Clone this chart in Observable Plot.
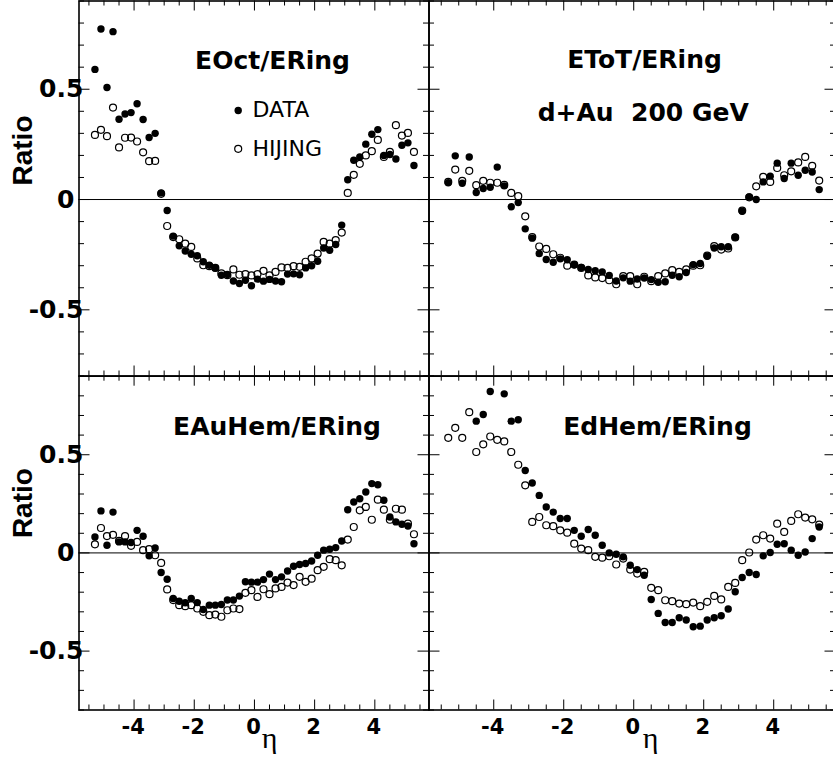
<!DOCTYPE html>
<html><head><meta charset="utf-8">
<script src="https://cdn.jsdelivr.net/npm/d3@7"></script>
<script src="https://cdn.jsdelivr.net/npm/@observablehq/plot@0.6"></script>
<style>
html,body{margin:0;padding:0;background:#fff;overflow:hidden}
#c{position:relative;width:833px;height:759px;overflow:hidden;background:#fff}
</style></head><body><div id="c"></div>
<script>
// ---- data ----
const eta = [-5.3,-5.1,-4.9,-4.7,-4.5,-4.3,-4.1,-3.9,-3.7,-3.5,-3.3,-3.1,-2.9,-2.7,-2.5,-2.3,-2.1,-1.9,-1.7,-1.5,-1.3,-1.1,-0.9,-0.7,-0.5,-0.3,-0.1,0.1,0.3,0.5,0.7,0.9,1.1,1.3,1.5,1.7,1.9,2.1,2.3,2.5,2.7,2.9,3.1,3.3,3.5,3.7,3.9,4.1,4.3,4.5,4.7,4.9,5.1,5.3];

const octData = [0.59,0.773,0.508,0.761,0.364,0.388,0.394,0.434,0.363,0.281,0.30,0.03,
  -0.05,-0.166,-0.21,-0.233,-0.248,-0.255,-0.282,-0.298,-0.31,-0.343,-0.34,-0.369,-0.381,-0.366,-0.391,-0.361,-0.37,-0.362,-0.369,-0.373,-0.338,-0.337,-0.341,-0.31,-0.30,-0.28,-0.22,-0.23,-0.204,-0.116,
  0.09,0.178,0.193,0.251,0.296,0.317,0.20,0.204,0.184,0.246,0.257,0.154];
const octHijing = [0.293,0.316,0.287,0.417,0.236,0.28,0.281,0.263,0.214,0.174,0.175,0.026,
  -0.12,-0.17,-0.18,-0.2,-0.215,-0.267,-0.298,-0.302,-0.31,-0.335,-0.343,-0.317,-0.341,-0.338,-0.344,-0.338,-0.323,-0.344,-0.328,-0.308,-0.31,-0.302,-0.305,-0.282,-0.267,-0.245,-0.192,-0.2,-0.184,-0.15,
  0.03,0.112,0.162,0.20,0.219,0.27,0.193,0.216,0.337,0.29,0.302,0.216];

const totData = [0.076,0.198,0.074,0.193,0.032,0.05,0.056,0.147,0.062,-0.033,-0.014,-0.133,
  -0.175,-0.245,-0.272,-0.284,-0.269,-0.273,-0.296,-0.308,-0.317,-0.323,-0.328,-0.344,-0.369,-0.355,-0.37,-0.36,-0.356,-0.363,-0.375,-0.373,-0.343,-0.35,-0.331,-0.295,-0.29,-0.257,-0.22,-0.214,-0.214,-0.171,
  -0.053,0.012,0.0,0.08,0.106,0.165,0.095,0.165,0.11,0.133,0.125,0.045];
const totHijing = [0.08,0.136,0.085,0.13,0.065,0.085,0.076,0.076,0.066,0.03,0.015,-0.076,
  -0.17,-0.213,-0.224,-0.248,-0.264,-0.30,-0.295,-0.31,-0.344,-0.353,-0.356,-0.366,-0.384,-0.347,-0.347,-0.384,-0.35,-0.37,-0.347,-0.335,-0.32,-0.328,-0.317,-0.30,-0.298,-0.254,-0.211,-0.227,-0.222,-0.172,
  -0.05,0.01,0.06,0.103,0.08,0.143,0.11,0.128,0.168,0.193,0.153,0.086];

const auData = [0.081,0.214,0.039,0.208,0.056,0.056,0.053,0.115,0.085,-0.015,0.025,-0.10,
  -0.134,-0.232,-0.246,-0.254,-0.232,-0.253,-0.288,-0.266,-0.266,-0.263,-0.24,-0.24,-0.22,-0.147,-0.149,-0.149,-0.136,-0.108,-0.136,-0.122,-0.092,-0.068,-0.059,-0.054,-0.041,-0.012,0.014,0.019,0.027,0.061,
  0.22,0.259,0.276,0.31,0.353,0.347,0.268,0.183,0.158,0.146,0.137,0.047];
const auHijing = [0.044,0.127,0.086,0.092,0.061,0.086,0.036,0.056,0.014,0.019,-0.012,-0.051,
  -0.186,-0.24,-0.266,-0.271,-0.266,-0.283,-0.30,-0.317,-0.314,-0.325,-0.292,-0.283,-0.286,-0.203,-0.19,-0.224,-0.185,-0.21,-0.181,-0.173,-0.151,-0.164,-0.122,-0.147,-0.131,-0.088,-0.071,-0.032,-0.037,-0.063,
  0.068,0.132,0.217,0.234,0.169,0.271,0.22,0.169,0.225,0.22,0.149,0.095];

const dData = [null,null,null,null,0.671,0.705,0.822,null,0.81,0.671,0.678,0.42,
  0.356,0.293,0.234,0.208,0.175,0.175,0.115,0.085,0.119,0.09,0.039,0.0,-0.007,-0.02,-0.063,-0.085,-0.114,-0.237,-0.308,-0.354,-0.354,-0.33,-0.342,-0.376,-0.373,-0.342,-0.33,-0.32,-0.286,-0.198,
  -0.125,-0.10,-0.11,-0.015,0.002,0.044,0.047,0.014,-0.012,0.005,0.073,0.132];
const dHijing = [0.586,0.637,0.586,0.717,0.514,0.553,0.593,0.576,0.568,0.514,0.449,0.344,
  0.158,0.183,0.141,0.136,0.115,0.103,0.047,0.022,0.014,-0.02,-0.024,-0.017,-0.059,-0.029,-0.085,-0.105,-0.097,-0.178,-0.19,-0.241,-0.246,-0.258,-0.261,-0.253,-0.271,-0.249,-0.219,-0.237,-0.173,-0.153,
  -0.037,0.002,0.068,0.09,0.073,0.149,0.107,0.163,0.197,0.18,0.171,0.144];

const titles = ["EOct/ERing", "EToT/ERing", "EAuHem/ERing", "EdHem/ERing"];
const subtitle = "d+Au  200 GeV";
const legendLabels = ["DATA", "HIJING"];
const yLabel = "Ratio";
const xLabel = "η";

const xMajor = [-4, -2, 0, 2, 4];
const xMajorText = ["-4", "-2", "0", "2", "4"];
const xMinor = [-5.5,-5,-4.5,-3.5,-3,-2.5,-1.5,-1,-0.5,0.5,1,1.5,2.5,3,3.5,4.5,5,5.5];
const yMajor = [-0.5, 0, 0.5];
const yMajorText = ["-0.5", "0", "0.5"];
const yMinor = [-0.8,-0.7,-0.6,-0.4,-0.3,-0.2,-0.1,0.1,0.2,0.3,0.4,0.6,0.7,0.8,0.9];

// ---- drawing ----
const BOLD = "DejaVu Sans";
function rows(vals) {
  return eta.map((x, i) => ({x, y: vals[i]})).filter(d => d.y != null);
}

function panel(cfg) {
  const W = cfg.width - cfg.marginLeft - cfg.marginRight;
  const H = cfg.height - cfg.marginTop - cfg.marginBottom;
  const k = {stroke: "black", strokeWidth: 1};
  const marks = [
    Plot.ruleY([0], {stroke: "black", strokeWidth: 1}),
    Plot.tickX(xMajor, {x: d => d, insetTop: H - 10, ...k}),
    Plot.tickX(xMajor, {x: d => d, insetBottom: H - 10, ...k}),
    Plot.tickX(xMinor, {x: d => d, insetTop: H - 5, ...k}),
    Plot.tickX(xMinor, {x: d => d, insetBottom: H - 5, ...k}),
    Plot.tickY(yMajor, {y: d => d, insetRight: W - 11, ...k}),
    Plot.tickY(yMajor, {y: d => d, insetLeft: W - 11, ...k}),
    Plot.tickY(yMinor, {y: d => d, insetRight: W - 5.5, ...k}),
    Plot.tickY(yMinor, {y: d => d, insetLeft: W - 5.5, ...k}),
    Plot.dot(rows(cfg.data), {x: "x", y: "y", r: 3.7, fill: "black", stroke: "none"}),
    Plot.dot(rows(cfg.hij), {x: "x", y: "y", r: 3.5, fill: "none", stroke: "black", strokeWidth: 1.2}),
    Plot.frame({stroke: "black", strokeWidth: 1.6}),
    Plot.text([cfg.title], {text: d => d, frameAnchor: "top", dx: cfg.titleDx, dy: cfg.titleDy,
      lineAnchor: "middle", fontSize: 25, fontWeight: "bold", fontFamily: BOLD})
  ];
  if (cfg.sub) marks.push(Plot.text([cfg.sub], {text: d => d, frameAnchor: "top", dx: cfg.subDx, dy: cfg.subDy,
      lineAnchor: "middle", fontSize: 25, fontWeight: "bold", fontFamily: BOLD}));
  if (cfg.legend) {
    marks.push(
      Plot.dot([legendLabels[0]], {frameAnchor: "top-left", dx: 159.2, dy: 109.5, r: 3.7, fill: "black", stroke: "none"}),
      Plot.dot([legendLabels[1]], {frameAnchor: "top-left", dx: 159.2, dy: 147.8, r: 3.5, fill: "none", stroke: "black", strokeWidth: 1.2}),
      Plot.text([legendLabels[0]], {text: d => d, frameAnchor: "top-left", dx: 173.5, dy: 108.5, textAnchor: "start",
        lineAnchor: "middle", fontSize: 22, fontFamily: "DejaVu Sans"}),
      Plot.text([legendLabels[1]], {text: d => d, frameAnchor: "top-left", dx: 173.5, dy: 148, textAnchor: "start",
        lineAnchor: "middle", fontSize: 22, fontFamily: "DejaVu Sans"})
    );
  }
  if (cfg.yLabels) {
    const yl = yMajor.map((v, i) => ({v, t: yMajorText[i]}));
    marks.push(
      Plot.text(yl.filter(d => d.v !== 0), {y: "v", text: "t", frameAnchor: "left", textAnchor: "end", dx: 4.3,
        lineAnchor: "middle", fontSize: 25, fontWeight: "bold", fontFamily: BOLD}),
      Plot.text(yl.filter(d => d.v === 0), {y: "v", text: "t", frameAnchor: "left", textAnchor: "end", dx: -4.5,
        lineAnchor: "middle", fontSize: 25, fontWeight: "bold", fontFamily: BOLD}),
      Plot.text([yLabel], {text: d => d, frameAnchor: "left", dx: -56, dy: cfg.ratioDy, rotate: -90,
        lineAnchor: "middle", fontSize: 28, fontWeight: "bold", fontFamily: "Liberation Sans"})
    );
  }
  if (cfg.xLabels) {
    const xl = xMajor.map((v, i) => ({v, t: xMajorText[i]}));
    marks.push(
      Plot.text(xl, {x: "v", text: "t", frameAnchor: "bottom", dy: 17, dx: -1,
        lineAnchor: "middle", fontSize: 21, fontWeight: "bold", fontFamily: BOLD}),
      Plot.text([xLabel], {text: d => d, frameAnchor: "bottom", dx: cfg.etaDx, dy: 28,
        lineAnchor: "middle", fontSize: 30, fontFamily: "Liberation Serif"})
    );
  }
  const svg = Plot.plot({
    width: cfg.width, height: cfg.height,
    marginLeft: cfg.marginLeft, marginRight: cfg.marginRight,
    marginTop: cfg.marginTop, marginBottom: cfg.marginBottom,
    x: {domain: cfg.xDomain, axis: null},
    y: {domain: [-0.8, 0.9], axis: null},
    style: {background: "transparent", overflow: "visible", color: "black"},
    marks
  });
  svg.style.position = "absolute";
  svg.style.left = cfg.left + "px";
  svg.style.top = cfg.top + "px";
  svg.style.maxWidth = "none";
  document.getElementById("c").appendChild(svg);
}

const leftDom = [-5.83, 5.80], rightDom = [-5.85, 5.78];
panel({data: octData, hij: octHijing, title: titles[0], left: 0, top: 0, width: 429, height: 377,
  marginLeft: 78.5, marginRight: 0.5, marginTop: 0.5, marginBottom: 1.5, xDomain: leftDom,
  titleDx: 18.5, titleDy: 59.5, legend: true, yLabels: true, ratioDy: -3});
panel({data: totData, hij: totHijing, title: titles[1], sub: subtitle, left: 400, top: 0, width: 440, height: 377,
  marginLeft: 28.5, marginRight: 4.5, marginTop: 0.5, marginBottom: 1.5, xDomain: rightDom,
  titleDx: 12, titleDy: 58.5, subDx: 10.7, subDy: 111.5});
panel({data: auData, hij: auHijing, title: titles[2], left: 0, top: 340, width: 429, height: 419,
  marginLeft: 78.5, marginRight: 0.5, marginTop: 35.7, marginBottom: 49.5, xDomain: leftDom,
  titleDx: 23, titleDy: 50.3, yLabels: true, ratioDy: -5, xLabels: true, etaDx: 15.5});
panel({data: dData, hij: dHijing, title: titles[3], left: 400, top: 340, width: 440, height: 419,
  marginLeft: 28.5, marginRight: 4.5, marginTop: 35.7, marginBottom: 49.5, xDomain: rightDom,
  titleDx: 25, titleDy: 50.3, xLabels: true, etaDx: 18});
</script></body></html>
